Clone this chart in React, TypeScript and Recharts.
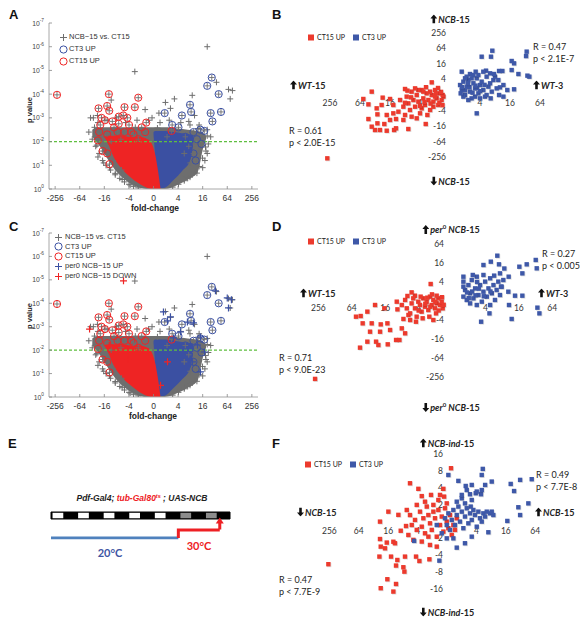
import React from 'react';
import { ComposedChart, Scatter, Area, Line, XAxis, YAxis, ReferenceArea, ReferenceLine } from 'recharts';

const SANS = '"Liberation Sans", Arial, sans-serif';
const CAL = 'Lato, "Open Sans", sans-serif';

const RED = '#ec3a2d';
const BLUE = '#3e58a8';
const V_GRAY = '#6e6e6e';
const V_RED = '#ee2424';
const V_BLUE = '#3b50a2';
const V_GREEN = '#5fbf3f';

type Pt = [number, number];
type Band = [number, number, number];

// ---------- Volcano plots (A, C): x = signed log2 fold-change, y = -log10 p ----------
const volcanoXTicks = [-8, -6, -4, -2, 0, 2, 4, 6, 8];
const volcanoYTicks = [0, 1, 2, 3, 4, 5, 6, 7];
const pThreshold = 2;

const volcanoAll: Pt[] = [
  [4.37, 6.0], [-1.52, 4.95], [5.12, 4.5], [6.1, 4.2], [6.42, 4.15], [6.24, 3.8], [3.15, 3.95], [1.7, 3.8],
  [0.97, 3.65], [1.38, 3.4], [3.34, 3.1], [3.62, 2.55], [4.09, 2.2], [4.0, 1.95], [3.71, 1.6], [-4.89, 3.0],
  [-4.56, 3.1], [-3.44, 3.75], [-0.68, 3.35], [-0.12, 3.0], [-4.8, 2.6], [-4.61, 1.85], [-4.52, 1.35],
  [-1.48, 2.6], [0.44, 3.2], [2.87, 2.85], [0.32, 2.57], [4.37, 2.24], [4.23, 1.77], [3.57, 1.43], [2.78, 0.45],
  [-5.12, 3.0], [-4.33, 2.2], [-4.05, 1.1], [-3.58, 0.9], [-3.11, 0.66], [-2.55, 0.4], [-1.9, 0.17], [2.5, 0.4],
  [3.53, 0.67], [4.0, 0.9], [4.18, 1.2], [4.37, 1.5],
  [-5.26, 2.4], [-4.98, 2.1], [-4.7, 1.8], [-4.42, 1.5], [-4.14, 1.2], [-3.86, 1.0], [-3.49, 0.8], [-3.11, 0.6],
  [-2.74, 0.45], [-2.36, 0.3], [-1.99, 0.2], [-1.62, 0.1], [-1.24, 0.05],
  [1.56, 0.08], [2.03, 0.2], [2.5, 0.35], [2.97, 0.5], [3.34, 0.7], [3.71, 0.95], [3.99, 1.3], [4.27, 1.6],
  [4.46, 1.9], [4.65, 2.2], [4.37, 2.5],
  [-4.52, 2.8], [-3.77, 2.9], [-3.02, 3.0], [-2.27, 2.8], [-1.34, 2.9], [-0.4, 2.9], [0.53, 2.8], [1.28, 2.9],
  [2.22, 2.8], [2.97, 2.7], [3.71, 2.7], [-4.0, 1.6], [-3.3, 1.2], [-2.6, 0.8], [-4.3, 2.5], [3.0, 1.1],
  [3.4, 1.9], [2.5, 1.5],
];

const volcanoCT3: Pt[] = [
  [4.74, 4.7], [4.37, 4.35], [5.3, 4.0], [5.49, 3.25], [4.65, 3.2], [4.79, 2.85], [2.97, 3.55], [3.06, 3.25],
  [2.31, 3.1], [1.52, 2.7], [0.91, 3.2], [3.81, 2.5], [4.13, 2.45], [3.25, 2.4], [2.59, 2.2], [2.03, 2.6],
  [3.53, 2.1], [1.1, 2.2], [2.87, 1.8], [3.25, 1.5], [3.9, 1.9], [3.43, 1.2],
];

const volcanoCT15: Pt[] = [
  [-7.85, 3.97], [-3.63, 4.0], [-1.24, 3.85], [-3.77, 3.5], [-4.47, 3.4], [-3.6, 3.3], [-2.36, 3.45], [-1.52, 3.45],
  [-2.83, 3.05], [-2.13, 3.0], [-4.23, 3.0], [-3.35, 2.85], [-2.83, 2.75], [-4.33, 2.7], [-4.42, 2.4], [-3.77, 2.3],
  [-2.93, 2.4], [-2.36, 2.4], [-1.8, 2.4], [-1.62, 2.3], [-0.59, 2.8], [-0.68, 2.4], [-4.52, 2.05], [-4.14, 1.6],
  [-3.77, 1.5], [-3.58, 1.05], [-3.44, 2.0], [-3.21, 2.6], [-1.99, 2.7], [-0.96, 2.6], [-2.65, 2.1], [-1.24, 2.1],
  [-3.95, 2.9], [-2.46, 3.1], [1.47, 2.45],
];

const per0Up: Pt[] = [
  [0.81, 3.63], [1.38, 3.42], [1.14, 3.25], [3.25, 3.16], [2.76, 3.2], [5.04, 4.53], [6.0, 4.23], [6.34, 4.15],
  [6.1, 3.8], [3.82, 2.56], [3.58, 2.22], [4.15, 1.92], [2.2, 2.78], [1.63, 2.52], [3.17, 1.5], [3.82, 1.07],
];
const per0Down: Pt[] = [[-2.44, 4.96], [-5.2, 2.9], [1.14, 1.5], [0.57, 0.5], [-3.6, 2.2], [-2.1, 1.6]];

// dense cores of the volcano (x, low, high)
const bandAll: Band[] = [
  [-4.98, 2.2, 2.5], [-4.55, 1.94, 2.6], [-3.77, 1.3, 2.6], [-2.93, 0.68, 2.6], [-2.08, 0.3, 2.6], [-1.31, 0.08, 2.6],
  [-0.59, 0, 2.6], [0.91, 0, 2.6], [1.94, 0.17, 2.55], [2.78, 0.4, 2.5], [3.57, 0.68, 2.45], [4.06, 1.77, 2.35], [4.27, 2.1, 2.25],
];
const bandCT3: Band[] = [
  [0.0, 2.3, 2.4], [0.16, 1.2, 2.45], [0.32, 0.04, 2.45], [0.81, 0.04, 2.45], [1.63, 0.38, 2.4], [2.31, 0.75, 2.35],
  [3.0, 1.22, 2.3], [3.25, 2.0, 2.25],
];
const bandCT15: Band[] = [
  [-3.95, 2.15, 2.2], [-3.77, 2.0, 2.25], [-3.25, 1.35, 2.25], [-2.65, 0.9, 2.25], [-1.87, 0.5, 2.2], [-1.24, 0.25, 2.2],
  [-0.49, 0.04, 2.1], [-0.24, 0, 2.0], [0.16, 0, 1.4], [0.32, 0, 0.93], [0.56, 0, 0.05],
];

// ---------- Panel B: log2 fold-change, WT-15 vs WT-3 (x) and NCB-15 (y) ----------
const bRed: Pt[] = [
  [-1.22, 1.62], [-3.0, 0.77], [-5.22, 0.43], [-5.78, -0.51], [-5.44, -1.2], [-4.49, -0.34], [-4.0, -0.51], [-4.56, -1.28],
  [-3.78, -1.28], [-5.44, -3.08], [-4.84, -2.48], [-4.22, -2.56], [-3.6, -3.08], [-4.84, -3.63], [-4.38, -3.72], [-4.0, -3.2],
  [-5.22, -4.06], [-5.0, -4.49], [-4.67, -4.49], [-4.22, -4.58], [-3.73, -4.49], [-3.6, -4.27], [-2.78, -4.36], [-1.62, -3.72],
  [-8.18, -8.12], [-4.89, -1.71],
  [-3.33, -0.64], [-3.11, -1.5], [-2.89, -0.21], [-2.78, -1.07], [-2.67, -1.92], [-2.56, 0.43], [-2.44, -0.64], [-2.33, -1.5],
  [-2.22, 0], [-2.11, -0.85], [-2.0, -2.35], [-1.89, 0.64], [-1.78, -0.43], [-1.67, -1.28], [-1.56, 0.21], [-1.44, -0.64],
  [-1.33, -1.92], [-1.22, 0], [-1.11, -0.85], [-1.0, 0.64], [-0.89, -0.43], [-0.78, -1.28], [-0.67, 0.21], [-0.56, -0.64],
  [-0.44, -0.21], [-3.0, -2.56], [-2.56, -2.78], [-2.22, -2.99], [-3.11, -3.2], [-3.44, -2.14], [-3.78, -2.35], [-1.89, -1.71],
  [-1.51, -2.56], [-1.11, -1.5], [-0.71, -1.0], [-0.49, 0], [-0.93, 0.21], [-1.33, 0.43], [-1.78, 0.43], [-2.11, 0.64],
  [-2.33, 0.85], [-2.84, 0.56], [-0.6, 0.4], [-1.0, -0.2], [-1.3, -1.1], [-0.5, -1.3], [-1.7, -0.9], [-2.0, -1.4],
  [-2.6, -0.3], [-3.0, -1.0], [-0.8, 0.9], [-1.6, 1.0],
];
const bBlue: Pt[] = [
  [2.82, 5.68], [2.11, 4.91], [2.73, 4.91], [5.11, 5.56], [4.11, 4.36], [4.27, 4.06], [5.07, 4.99], [3.27, 3.08],
  [3.49, 3.08], [4.11, 3.2], [4.56, 2.69], [5.16, 2.48], [5.29, 2.35], [3.82, 0.64], [4.27, 0.73], [3.27, 0],
  [3.56, -0.21], [2.71, -0.43], [1.78, -2.35], [2.4, 3.12], [1.71, 2.99], [1.33, 2.69], [0.78, 2.99],
  [0.67, 1.28], [0.78, 0.64], [0.89, 1.71], [1.0, 0], [1.11, 1.07], [1.22, 1.92], [1.33, 0.43], [1.44, -0.43],
  [1.56, 1.5], [1.67, 0.85], [1.78, 2.14], [1.89, 0.21], [2.0, 1.28], [2.11, 1.71], [2.22, 0.64], [2.33, -0.21],
  [2.44, 2.35], [2.56, 1.07], [2.67, 1.5], [2.78, 0.43], [2.89, 1.92], [3.0, 2.35], [3.11, 0.85], [1.11, 2.35],
  [1.56, 2.56], [1.44, 2.14], [0.89, -0.21], [0.71, 0.21], [1.22, -0.64], [2.0, -0.43], [2.44, 0], [2.67, 2.78],
  [2.93, 2.69], [3.22, 1.92], [3.56, 1.28], [3.33, 0.98], [1.67, -0.21], [1.0, 2.14], [1.89, 2.56], [2.22, 2.99],
  [1.3, 1.0], [1.8, 0.9], [2.3, 1.3], [1.0, 0.6], [1.5, 0.3], [2.0, 0.5], [0.8, 1.0], [1.2, 1.5], [1.7, 1.2],
];
const bXTicks = [-8, -6, -4, -2, 2, 4, 6];
const bYTicks = [8, 6, 4, 2, -2, -4, -6, -8];

// ---------- Panel D: WT-15 vs WT-3 (x) and per0 NCB-15 (y) ----------
const dRed: Pt[] = [
  [-1.28, 1.79], [-4.61, -0.42], [-5.07, -1.12], [-5.75, -1.65], [-5.47, -1.58], [-5.35, -2.35], [-4.81, -2.35], [-4.91, -3.23],
  [-4.27, -2.46], [-3.87, -2.35], [-4.31, -3.23], [-3.71, -3.05], [-3.01, -2.88], [-5.51, -4.91], [-5.07, -4.28], [-4.55, -4.28],
  [-4.41, -4.63], [-3.85, -4.56], [-3.35, -4.1], [-3.15, -4.1], [-2.81, -3.4], [-8.2, -8.2], [-2.22, 0.56], [-3.31, -0.07],
  [-4.05, -0.77], [-3.27, -0.88], [-2.91, -1.89], [-2.61, -1.47],
  [-3.01, -0.42], [-2.81, 0.11], [-2.71, -0.77], [-2.51, -1.3], [-2.42, -0.25], [-2.32, 0.28], [-2.22, -0.77], [-2.12, -1.65],
  [-2.02, -0.07], [-1.92, -0.42], [-1.82, -1.12], [-1.72, 0.28], [-1.62, -0.6], [-1.52, -0.07], [-1.42, -0.95], [-1.32, 0.46],
  [-1.22, -0.42], [-1.12, 0.11], [-1.02, -0.77], [-0.92, -0.25], [-0.82, 0.28], [-0.72, -0.42], [-0.62, -0.07], [-0.56, -0.77],
  [-0.96, -1.3], [-1.36, -1.65], [-1.76, -1.82], [-2.16, -2.18], [-2.51, -2.0], [-0.92, 0.56], [-1.12, -2.0], [-1.48, 0.35],
  [-1.88, 0.46], [-2.67, 0.53], [-2.42, 0.91], [-0.6, 0.4], [-1.0, -0.1], [-1.6, -0.3], [-0.8, -1.0], [-1.3, -0.6],
  [-2.0, -1.0], [-0.5, -0.4], [-1.2, 0.7],
];
const dBlue: Pt[] = [
  [2.71, 4.77], [2.32, 4.14], [2.81, 3.86], [1.88, 3.79], [3.13, 3.42], [4.03, 3.61], [4.21, 2.91], [4.47, 3.86],
  [5.01, 4.32], [5.07, 3.44], [2.87, 2.91], [3.39, 2.56], [0.68, 2.56], [0.68, 2.04], [2.93, 1.51], [3.37, 0.98],
  [3.77, 0.56], [4.21, 0.56], [3.41, -0.42], [5.11, -0.7], [5.23, -1.3], [3.57, -1.89], [1.74, -2.18], [2.24, -1.3],
  [0.68, 0.46], [0.78, 1.16], [0.88, 0.11], [0.98, 1.68], [1.08, 0.81], [1.18, 2.21], [1.28, 0.28], [1.38, 1.33],
  [1.48, 2.56], [1.58, 0.63], [1.68, 1.68], [1.78, -0.07], [1.88, 0.98], [1.98, 2.04], [2.08, 0.46], [2.18, 1.33],
  [2.28, 2.39], [2.38, 0.81], [2.48, 1.68], [2.57, 0.11], [2.67, 1.16], [2.77, 2.04], [2.87, 0.63], [2.97, 1.51],
  [1.08, -0.25], [1.48, -0.42], [2.28, -0.42], [0.68, 1.51], [1.88, 2.74], [2.52, 2.67], [3.07, 2.21], [1.24, 2.74],
  [1.2, 1.0], [1.6, 1.3], [1.0, 0.3], [1.4, 0.6], [0.9, 0.9], [1.9, 0.5], [2.3, 1.0], [1.5, 2.0],
];
const dXTicks = [-8, -6, -4, -2, 2, 4, 6];
const dYTicks = [6, 4, 2, -2, -4, -6, -8];

// ---------- Panel F: NCB-15 (x) and NCB-ind-15 (y) ----------
const fRed: Pt[] = [
  [0.27, 3.15], [-2.52, 2.26], [-1.95, 1.93], [-1.09, 1.57], [-0.48, 1.57], [-0.25, 1.93], [-1.72, 1.5], [-3.99, 0.58],
  [-3.31, 0.39], [-4.56, -0.01], [-2.79, -0.27], [-3.15, -0.55], [-3.65, -1.2], [-4.1, -1.25], [-4.56, -1.04], [-4.51, -1.49],
  [-4.22, -1.59], [-3.54, -1.29], [-4.6, -2.08], [-3.81, -2.08], [-3.38, -2.28], [-2.86, -2.08], [-2.11, -2.08], [-1.88, -2.34],
  [-1.2, -2.24], [-3.47, -2.61], [-2.97, -2.71], [-2.9, -2.97], [-4.06, -3.42], [-4.51, -3.95], [-3.65, -4.15], [-3.47, -3.7],
  [-8.07, -2.53],
  [-2.52, 0.38], [-2.18, 0.09], [-2.06, 0.98], [-1.84, 0.58], [-1.72, -0.31], [-1.61, 0.19], [-1.5, -0.7], [-1.38, 0.88],
  [-1.27, 0.38], [-1.16, -0.11], [-1.04, -0.5], [-0.93, 0.58], [-0.82, 0.19], [-0.7, -0.9], [-0.59, 0.68], [-0.48, -0.21],
  [-0.36, 0.29], [-0.25, -0.6], [-0.14, 0.78], [-0.02, -0.01], [0.09, -0.4], [0.2, 0.38], [0.32, -0.8], [0.43, -0.21],
  [-2.06, -0.5], [-2.63, -0.8], [-2.29, -1.09], [-1.72, -1.19], [-1.16, -1.39], [-0.7, -1.49], [-1.27, -0.9], [-0.93, 0.98],
  [-1.5, 1.17], [-0.59, 1.27], [-0.02, 1.07], [-0.2, 1.47], [-2.74, 0.68], [-2.4, -0.21], [0.54, -0.5], [0.66, 0.19],
];
const fBlue: Pt[] = [
  [2.43, 3.11], [2.36, 2.75], [3.04, 2.36], [2.59, 2.16], [1.68, 2.16], [1.27, 2.1], [0.09, 2.75], [0.77, 2.4],
  [4.33, 2.22], [4.97, 2.46], [5.76, 2.5], [4.56, 1.8], [1.95, 1.67], [2.31, 1.61], [1.68, 1.27], [1.61, 0.88],
  [4.85, 0.84], [5.53, 1.07], [4.97, 0.38], [4.1, 0.03], [2.81, -0.64], [1.68, -0.9], [1.22, -1.29], [0.66, -1.55],
  [-0.52, -2.32], [-2.24, -1.15],
  [-0.14, 0.19], [-0.02, -0.21], [0.09, 0.48], [0.2, -0.5], [0.32, 0.09], [0.43, 0.68], [0.54, -0.21], [0.66, 0.38],
  [0.77, 0.88], [0.88, -0.01], [1.0, 0.58], [1.11, -0.4], [1.22, 0.29], [1.34, 0.78], [1.45, -0.11], [1.56, 0.48],
  [1.68, 0.09], [1.79, 0.68], [1.9, 0.38], [2.02, -0.31], [2.13, 0.58], [2.24, 0.19], [2.36, -0.01], [2.47, 0.48],
  [2.59, 0.29], [2.7, 0.58], [2.93, 0.48], [3.04, 0.58], [3.15, 0.38], [-0.36, -0.7], [-0.02, -1.0], [0.43, -1.0],
  [-0.7, -0.21], [0.66, 1.17], [1.0, 1.37], [1.22, 1.07], [1.56, 1.61], [2.02, 1.77], [2.36, 1.86], [1.34, 1.86],
  [1.0, 1.57],
];
const fXTicks = [-8, -6, -4, -2, 2, 4, 6];
const fYTicks = [4, 3, 2, 1, -1, -2, -3, -4];

// ---------- Panel E: schedule ----------
const ldDays = [0, 1, 2, 3, 4, 5, 6];
const heatDays = [5, 6];
const temp20 = [{ d: 0, t: 20 }, { d: 4.98, t: 20 }];
const temp30 = [{ d: 4.98, t: 20 }, { d: 4.98, t: 30 }, { d: 6.6, t: 30 }];
const samplingDay = 6.6;

// ---------- helpers ----------
const fmtFold = (v: number) => (v === 0 ? '0' : (v < 0 ? '-' : '') + String(Math.pow(2, Math.abs(v))));
const pts = (a: Pt[]) => a.map(([x, y]) => ({ x, y }));
const bandData = (b: Band[]) => b.map(([x, lo, hi]) => ({ x, band: [lo, hi] }));

const plusShape = (color: string, s = 3, w = 1) => (p: any) =>
  p.cx == null ? <g /> : (
    <path d={`M${p.cx - s},${p.cy}H${p.cx + s}M${p.cx},${p.cy - s}V${p.cy + s}`} stroke={color} strokeWidth={w} fill="none" />
  );
const ringShape = (color: string) => (p: any) =>
  p.cx == null ? <g /> : (
    <g>
      <path d={`M${p.cx - 3},${p.cy}H${p.cx + 3}M${p.cx},${p.cy - 3}V${p.cy + 3}`} stroke={V_GRAY} strokeWidth={0.9} />
      <circle cx={p.cx} cy={p.cy} r={3.6} fill="none" stroke={color} strokeWidth={1} />
    </g>
  );
const squareShape = (color: string) => (p: any) =>
  p.cx == null ? <g /> : (
    <g>
      <rect x={p.cx - 1.4} y={p.cy - 1.4} width={4.4} height={4.4} fill="#000" opacity={0.13} />
      <rect x={p.cx - 2.2} y={p.cy - 2.2} width={4.4} height={4.4} fill={color} />
    </g>
  );

// y tick: 10^-k label with a small inward tick mark (axis line sits 5px right of the text anchor)
const PowTick = (props: any) => {
  const { x, y, payload } = props;
  return (
    <g>
      <path d={`M${x + 5},${y}H${x + 8}`} stroke="#888" strokeWidth={0.8} />
      <text x={x} y={y + 2.5} textAnchor="end" fontSize={6.8} fill="#444" fontFamily={SANS}>
        10
        <tspan dy={-3.5} fontSize={4.8}>{payload.value === 0 ? '0' : '-' + payload.value}</tspan>
      </text>
    </g>
  );
};

// x tick: fold-change label with a small inward tick mark (axis line sits 5px above the text anchor)
const FoldTick = (props: any) => {
  const { x, y, payload } = props;
  return (
    <g>
      <path d={`M${x},${y - 5}V${y - 8}`} stroke="#888" strokeWidth={0.8} />
      <text x={x} y={y + 7} textAnchor="middle" fontSize={8.5} fill="#333" fontFamily={SANS}>
        {fmtFold(payload.value)}
      </text>
    </g>
  );
};

const Txt = ({ x, y, children, size = 9, weight = 400, italic = false, color = '#222', align = 'left', font = CAL }: any) => (
  <div
    style={{
      position: 'absolute', left: x, top: y,
      transform: `translate(${align === 'center' ? '-50%' : align === 'right' ? '-100%' : '0'}, -50%)`,
      fontSize: size, fontWeight: weight, fontStyle: italic ? 'italic' : 'normal', color, fontFamily: font,
      whiteSpace: 'nowrap', lineHeight: 1,
    }}
  >
    {children}
  </div>
);

const VLabel = ({ cx, cy, children }: any) => (
  <div
    style={{
      position: 'absolute', left: cx - 25, top: cy - 5, width: 50, height: 10, lineHeight: '10px', textAlign: 'center',
      transform: 'rotate(-90deg)', fontSize: 7.5, fontWeight: 700, fontFamily: SANS, whiteSpace: 'nowrap', color: '#222',
    }}
  >
    {children}
  </div>
);

const Arr = ({ down = false }: { down?: boolean }) => (
  <svg width="7" height="9" viewBox="0 0 7 9" style={{ verticalAlign: '-1px', marginRight: 1 }}>
    <path d={down ? 'M3.5 9 L7 5 H4.8 V0 H2.2 V5 H0 Z' : 'M3.5 0 L7 4 H4.8 V9 H2.2 V4 H0 Z'} fill="#111" />
  </svg>
);

const Sq = ({ color }: { color: string }) => (
  <span style={{ display: 'inline-block', width: 6, height: 6, background: color, marginRight: 3, verticalAlign: '-0.5px' }} />
);

const VIcon = ({ kind, color }: { kind: 'plus' | 'ring'; color: string }) => (
  <svg width="9" height="9" viewBox="0 0 9 9" style={{ position: 'absolute', left: -4.5, top: -4.5 }}>
    {kind === 'plus' ? (
      <path d="M1,4.5H8M4.5,1V8" stroke={color} strokeWidth={1} />
    ) : (
      <circle cx={4.5} cy={4.5} r={3.6} fill="none" stroke={color} strokeWidth={1} />
    )}
  </svg>
);

function VLegend({ x, tx, rows }: { x: number; tx: number; rows: { y: number; kind: 'plus' | 'ring'; color: string; label: string }[] }) {
  return (
    <>
      {rows.map((r) => (
        <React.Fragment key={r.label}>
          <div style={{ position: 'absolute', left: x, top: r.y }}>
            <VIcon kind={r.kind} color={r.color} />
          </div>
          <Txt x={tx} y={r.y} size={7.5} font={SANS} color="#333">{r.label}</Txt>
        </React.Fragment>
      ))}
    </>
  );
}

function Volcano({ top, marginTop, per0 }: { top: number; marginTop: number; per0: boolean }) {
  return (
    <div style={{ position: 'absolute', left: 0, top, width: 290, height: 215 }}>
      <ComposedChart width={290} height={215} margin={{ top: marginTop, right: 32, bottom: 0, left: 0 }}>
        <XAxis
          type="number" dataKey="x" domain={[-8.5, 8.5]} ticks={volcanoXTicks} interval={0}
          allowDataOverflow height={26} tickLine={false} tickSize={3} axisLine={{ stroke: '#a8a8a8' }}
          tick={<FoldTick />}
        />
        <YAxis
          type="number" dataKey="y" domain={[0, 7]} ticks={volcanoYTicks} interval={0} allowDataOverflow width={49}
          tickLine={false} tickSize={3} axisLine={{ stroke: '#a8a8a8' }} tick={<PowTick />}
        />
        <Area data={bandData(bandAll)} dataKey="band" type="monotone" stroke="none" fill={V_GRAY} fillOpacity={1} isAnimationActive={false} />
        <ReferenceLine y={pThreshold} stroke={V_GREEN} strokeWidth={1.3} strokeDasharray="3 2" />
        <Scatter data={pts(volcanoAll)} shape={plusShape(V_GRAY)} isAnimationActive={false} />
        <Area data={bandData(bandCT3)} dataKey="band" type="monotone" stroke="none" fill={V_BLUE} fillOpacity={1} isAnimationActive={false} />
        <Scatter data={pts(volcanoCT3)} shape={ringShape(V_BLUE)} isAnimationActive={false} />
        <Area data={bandData(bandCT15)} dataKey="band" type="monotone" stroke="none" fill={V_RED} fillOpacity={1} isAnimationActive={false} />
        <Scatter data={pts(volcanoCT15)} shape={ringShape(V_RED)} isAnimationActive={false} />
        {per0 && <Scatter data={pts(per0Up)} shape={plusShape(V_BLUE, 3.5, 1.2)} isAnimationActive={false} />}
        {per0 && <Scatter data={pts(per0Down)} shape={plusShape(V_RED, 3.5, 1.2)} isAnimationActive={false} />}
      </ComposedChart>
    </div>
  );
}

function Quad({
  left, top, width, height, xDomain, yDomain, red, blue, xTicks, yTicks, xLabelDy, yLabelDx,
}: {
  left: number; top: number; width: number; height: number; xDomain: [number, number]; yDomain: [number, number];
  red: Pt[]; blue: Pt[]; xTicks: number[]; yTicks: number[]; xLabelDy: number; yLabelDx: number;
}) {
  const xTickData = xTicks.map((v) => ({ x: v, y: 0, label: String(Math.pow(2, Math.abs(v))) }));
  const yTickData = yTicks.map((v) => ({ x: 0, y: v, label: (v < 0 ? '-' : '') + String(Math.pow(2, Math.abs(v))) }));
  const xLab = (p: any) =>
    p.cx == null ? <g /> : (
      <text x={p.cx} y={p.cy + xLabelDy} textAnchor="middle" dominantBaseline="central" fontSize={8.5} fill="#333" fontFamily={CAL}>
        {p.payload.label}
      </text>
    );
  const yLab = (p: any) =>
    p.cx == null ? <g /> : (
      <text x={p.cx + yLabelDx} y={p.cy} textAnchor="end" dominantBaseline="central" fontSize={8.5} fill="#333" fontFamily={CAL}>
        {p.payload.label}
      </text>
    );
  return (
    <div style={{ position: 'absolute', left, top, width, height }}>
      <ComposedChart width={width} height={height} margin={{ top: 0, right: 0, bottom: 0, left: 0 }}>
        <XAxis type="number" dataKey="x" domain={xDomain} allowDataOverflow hide />
        <YAxis type="number" dataKey="y" domain={yDomain} allowDataOverflow hide />
        <Scatter data={xTickData} shape={xLab} isAnimationActive={false} />
        <Scatter data={yTickData} shape={yLab} isAnimationActive={false} />
        <Scatter data={pts(red)} shape={squareShape(RED)} isAnimationActive={false} />
        <Scatter data={pts(blue)} shape={squareShape(BLUE)} isAnimationActive={false} />
      </ComposedChart>
    </div>
  );
}

function Schedule() {
  const arrowHead = (p: any) =>
    p.cx == null ? <g /> : (
      <g>
        <path d={`M${p.cx},${p.cy + 7}V${p.cy}`} stroke="#ee2024" strokeWidth={3} />
        <path d={`M${p.cx},${p.cy - 5}L${p.cx + 4},${p.cy + 1}H${p.cx - 4}Z`} fill="#ee2024" />
      </g>
    );
  return (
    <div style={{ position: 'absolute', left: 40, top: 500, width: 200, height: 50 }}>
      <ComposedChart width={200} height={50} margin={{ top: 5, right: 10, bottom: 10.4, left: 11 }}>
        <XAxis type="number" dataKey="d" domain={[0, 7]} allowDataOverflow hide />
        <YAxis type="number" dataKey="t" domain={[18, 61.25]} allowDataOverflow hide />
        <ReferenceArea x1={0} x2={7} y1={43.75} y2={52.5} fill="#000" fillOpacity={1} stroke="#000" />
        {ldDays.map((d) => (
          <ReferenceArea
            key={d} x1={d + 0.06} x2={d + 0.48} y1={44.7} y2={51.5}
            fill={heatDays.includes(d) ? '#8c8c8c' : '#ffffff'} fillOpacity={1} stroke="none"
          />
        ))}
        <Line data={temp20} dataKey="t" stroke="#4f81bd" strokeWidth={3} dot={false} isAnimationActive={false} />
        <Line data={temp30} dataKey="t" stroke="#ee2024" strokeWidth={3} dot={false} isAnimationActive={false} />
        <Scatter data={[{ d: samplingDay, t: 39.5 }]} shape={arrowHead} isAnimationActive={false} />
      </ComposedChart>
    </div>
  );
}

const Letter = ({ x, y, children }: any) => (
  <Txt x={x} y={y} size={13} weight={700} font={SANS} color="#111">{children}</Txt>
);

export default function App() {
  return (
    <div style={{ position: 'absolute', left: 0, top: 0, width: 587, height: 624, background: '#fff', overflow: 'hidden' }}>
      {/* Panel A */}
      <Volcano top={0} marginTop={23} per0={false} />
      <VLegend
        x={63} tx={69}
        rows={[
          { y: 37, kind: 'plus', color: V_GRAY, label: 'NCB\u221215 vs. CT15' },
          { y: 49, kind: 'ring', color: V_BLUE, label: 'CT3 UP' },
          { y: 61, kind: 'ring', color: V_RED, label: 'CT15 UP' },
        ]}
      />
      <VLabel cx={29.5} cy={110}>p value</VLabel>
      <Txt x={155} y={208} size={8.5} weight={700} font={SANS} align="center">fold-change</Txt>

      {/* Panel C */}
      <Volcano top={208} marginTop={25} per0={true} />
      <VLegend
        x={58} tx={65}
        rows={[
          { y: 237, kind: 'plus', color: V_GRAY, label: 'NCB\u221215 vs. CT15' },
          { y: 246.5, kind: 'ring', color: V_BLUE, label: 'CT3 UP' },
          { y: 256, kind: 'ring', color: V_RED, label: 'CT15 UP' },
          { y: 266, kind: 'plus', color: V_BLUE, label: 'per0 NCB\u221215 UP' },
          { y: 276, kind: 'plus', color: V_RED, label: 'per0 NCB\u221215 DOWN' },
        ]}
      />
      <VLabel cx={29.5} cy={316}>p value</VLabel>
      <Txt x={153} y={416} size={8.5} weight={700} font={SANS} align="center">fold-change</Txt>

      {/* Panel B */}
      <Quad left={290} top={20} width={297} height={170} xDomain={[-10.667, 9.133]} yDomain={[-12.18, 9.615]}
        red={bRed} blue={bBlue} xTicks={bXTicks} yTicks={bYTicks} xLabelDy={8} yLabelDx={-4} />
      <Txt x={450} y={18.5} weight={700} align="center"><Arr /><i>NCB</i>-15</Txt>
      <Txt x={450} y={181} weight={700} align="center"><Arr down /><i>NCB</i>-15</Txt>
      <Txt x={290} y={85} weight={700}><Arr /><i>WT</i>-15</Txt>
      <Txt x={533} y={85} weight={700}><Arr /><i>WT</i>-3</Txt>
      <Txt x={308} y={37} size={7}><Sq color={RED} />CT15 UP</Txt>
      <Txt x={353} y={37} size={7}><Sq color={BLUE} />CT3 UP</Txt>
      <Txt x={533} y={46}>R = 0.47</Txt>
      <Txt x={533} y={57.5}>p &lt; 2.1E-7</Txt>
      <Txt x={289} y={130}>R = 0.61</Txt>
      <Txt x={289} y={141.5}>p &lt; 2.0E-15</Txt>

      {/* Panel D */}
      <Quad left={290} top={225} width={297} height={175} xDomain={[-9.7, 8.08]} yDomain={[-10.42, 8.0]}
        red={dRed} blue={dBlue} xTicks={dXTicks} yTicks={dYTicks} xLabelDy={7} yLabelDx={-8} />
      <Txt x={451} y={229} weight={700} align="center"><Arr /><i>per</i><sup style={{ fontSize: 6 }}>0</sup> <i>NCB</i>-15</Txt>
      <Txt x={451} y={407} weight={700} align="center"><Arr down /><i>per</i><sup style={{ fontSize: 6 }}>0</sup> <i>NCB</i>-15</Txt>
      <Txt x={300} y={293} weight={700}><Arr /><i>WT</i>-15</Txt>
      <Txt x={538} y={293} weight={700}><Arr /><i>WT</i>-3</Txt>
      <Txt x={308} y={241} size={7}><Sq color={RED} />CT15 UP</Txt>
      <Txt x={353} y={241} size={7}><Sq color={BLUE} />CT3 UP</Txt>
      <Txt x={542} y={253}>R = 0.27</Txt>
      <Txt x={542} y={265}>p &lt; 0.005</Txt>
      <Txt x={279} y={357}>R = 0.71</Txt>
      <Txt x={279} y={369}>p &lt; 9.0E-23</Txt>

      {/* Panel E */}
      <Schedule />
      <Txt x={142} y={498} size={8.5} weight={700} italic font={SANS} align="center">
        Pdf-Gal4; <span style={{ color: '#ee2024' }}>tub-Gal80<sup style={{ fontSize: 5.5 }}>ts</sup></span> ; UAS-NCB
      </Txt>
      <Txt x={110} y={552} size={11} weight={700} color="#3e55a3" align="center">20°C</Txt>
      <Txt x={199} y={545} size={11} weight={700} color="#ee2024" align="center">30°C</Txt>

      {/* Panel F */}
      <Quad left={290} top={440} width={297} height={170} xDomain={[-10.68, 9.52]} yDomain={[-5.24, 4.82]}
        red={fRed} blue={fBlue} xTicks={fXTicks} yTicks={fYTicks} xLabelDy={10} yLabelDx={-4} />
      <Txt x={447} y={443} weight={700} align="center"><Arr /><i>NCB-ind</i>-15</Txt>
      <Txt x={447} y={612} weight={700} align="center"><Arr down /><i>NCB-ind</i>-15</Txt>
      <Txt x={297} y={512} weight={700}><Arr down /><i>NCB</i>-15</Txt>
      <Txt x={535} y={512} weight={700}><Arr /><i>NCB</i>-15</Txt>
      <Txt x={305} y={464} size={7}><Sq color={RED} />CT15 UP</Txt>
      <Txt x={350} y={464} size={7}><Sq color={BLUE} />CT3 UP</Txt>
      <Txt x={536} y={474}>R = 0.49</Txt>
      <Txt x={536} y={486}>p &lt; 7.7E-8</Txt>
      <Txt x={279} y={579}>R = 0.47</Txt>
      <Txt x={279} y={591}>p &lt; 7.7E-9</Txt>

      {/* Panel letters */}
      <Letter x={9} y={14}>A</Letter>
      <Letter x={272} y={14}>B</Letter>
      <Letter x={9} y={226}>C</Letter>
      <Letter x={272} y={226}>D</Letter>
      <Letter x={8} y={443}>E</Letter>
      <Letter x={272} y={443}>F</Letter>
    </div>
  );
}
